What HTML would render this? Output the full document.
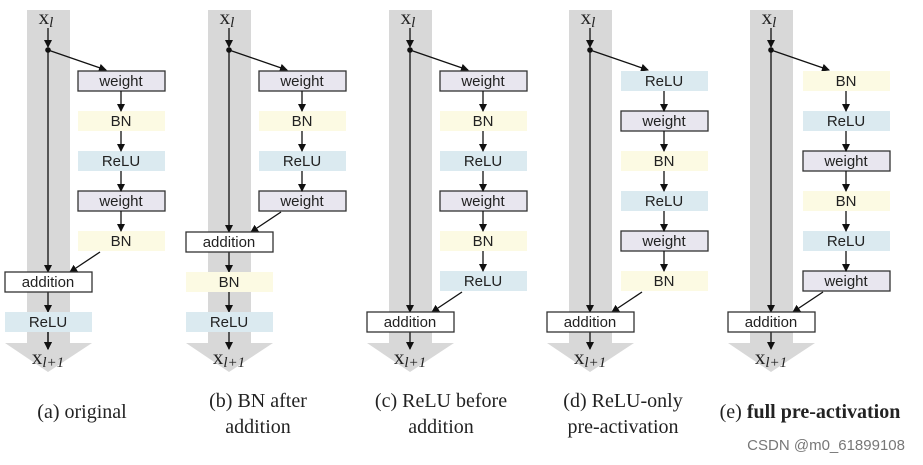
<!DOCTYPE html>
<html><head><meta charset="utf-8"><style>
html,body{margin:0;padding:0;background:#fff;}
svg{display:block;}
.t{font-family:"Liberation Sans",sans-serif;font-size:15px;fill:#222;text-anchor:middle;}
.x{font-family:"Liberation Serif",serif;font-size:21px;fill:#222;text-anchor:middle;}
.cap{font-family:"Liberation Serif",serif;font-size:20px;fill:#222;text-anchor:middle;}
</style></head><body>
<svg width="923" height="465" viewBox="0 0 923 465" xmlns="http://www.w3.org/2000/svg">
<defs>
<marker id="ah" markerWidth="8" markerHeight="8" refX="7" refY="4" orient="auto" markerUnits="userSpaceOnUse"><path d="M0,0 L8,4 L0,8 z" fill="#111"/></marker>
<g id="base">
<rect x="27" y="10" width="43" height="333" fill="#d8d8d8"/>
<polygon points="5,343 92,343 48,372" fill="#d8d8d8"/>
<text class="x" x="46" y="24">x<tspan font-style="italic" font-size="15" dy="3">l</tspan></text>
<line x1="48" y1="28" x2="48" y2="47" stroke="#111" stroke-width="1.3" marker-end="url(#ah)"/>
<circle cx="48" cy="50" r="2.8" fill="#111"/>
<line x1="48" y1="50" x2="106" y2="70" stroke="#111" stroke-width="1.3" marker-end="url(#ah)"/>
<text class="x" x="48" y="364">x<tspan font-style="italic" font-size="15" dy="3">l+1</tspan></text>
</g>
</defs>

<!-- (a) -->
<g transform="translate(0,0)">
<use href="#base"/>
<rect x="78" y="71" width="87" height="20" fill="#e8e6ef" stroke="#333" stroke-width="1.3"/><text class="t" x="121" y="86">weight</text>
<rect x="78" y="111" width="87" height="20" fill="#fcfae3"/><text class="t" x="121" y="126">BN</text>
<rect x="78" y="151" width="87" height="20" fill="#dbeaf0"/><text class="t" x="121" y="166">ReLU</text>
<rect x="78" y="191" width="87" height="20" fill="#e8e6ef" stroke="#333" stroke-width="1.3"/><text class="t" x="121" y="206">weight</text>
<rect x="78" y="231" width="87" height="20" fill="#fcfae3"/><text class="t" x="121" y="246">BN</text>
<g stroke="#111" stroke-width="1.3" marker-end="url(#ah)">
<line x1="121" y1="91" x2="121" y2="111"/><line x1="121" y1="131" x2="121" y2="151"/><line x1="121" y1="171" x2="121" y2="191"/><line x1="121" y1="211" x2="121" y2="231"/>
<line x1="48" y1="50" x2="48" y2="272"/><line x1="100" y1="252" x2="70" y2="272"/>
<line x1="48" y1="292" x2="48" y2="312"/><line x1="48" y1="332" x2="48" y2="349"/>
</g>
<rect x="5" y="272" width="87" height="20" fill="#fff" stroke="#333" stroke-width="1.3"/><text class="t" x="48" y="287">addition</text>
<rect x="5" y="312" width="87" height="20" fill="#dbeaf0"/><text class="t" x="48" y="327">ReLU</text>
<line x1="48" y1="332" x2="48" y2="349" stroke="#111" stroke-width="1.3" marker-end="url(#ah)"/>
</g>

<!-- (b) -->
<g transform="translate(181,0)">
<use href="#base"/>
<rect x="78" y="71" width="87" height="20" fill="#e8e6ef" stroke="#333" stroke-width="1.3"/><text class="t" x="121" y="86">weight</text>
<rect x="78" y="111" width="87" height="20" fill="#fcfae3"/><text class="t" x="121" y="126">BN</text>
<rect x="78" y="151" width="87" height="20" fill="#dbeaf0"/><text class="t" x="121" y="166">ReLU</text>
<rect x="78" y="191" width="87" height="20" fill="#e8e6ef" stroke="#333" stroke-width="1.3"/><text class="t" x="121" y="206">weight</text>
<g stroke="#111" stroke-width="1.3" marker-end="url(#ah)">
<line x1="121" y1="91" x2="121" y2="111"/><line x1="121" y1="131" x2="121" y2="151"/><line x1="121" y1="171" x2="121" y2="191"/>
<line x1="48" y1="50" x2="48" y2="232"/><line x1="100" y1="212" x2="70" y2="232"/>
<line x1="48" y1="252" x2="48" y2="272"/><line x1="48" y1="292" x2="48" y2="312"/>
</g>
<rect x="5" y="232" width="87" height="20" fill="#fff" stroke="#333" stroke-width="1.3"/><text class="t" x="48" y="247">addition</text>
<rect x="5" y="272" width="87" height="20" fill="#fcfae3"/><text class="t" x="48" y="287">BN</text>
<rect x="5" y="312" width="87" height="20" fill="#dbeaf0"/><text class="t" x="48" y="327">ReLU</text>
<line x1="48" y1="332" x2="48" y2="349" stroke="#111" stroke-width="1.3" marker-end="url(#ah)"/>
</g>

<!-- (c) -->
<g transform="translate(362,0)">
<use href="#base"/>
<rect x="78" y="71" width="87" height="20" fill="#e8e6ef" stroke="#333" stroke-width="1.3"/><text class="t" x="121" y="86">weight</text>
<rect x="78" y="111" width="87" height="20" fill="#fcfae3"/><text class="t" x="121" y="126">BN</text>
<rect x="78" y="151" width="87" height="20" fill="#dbeaf0"/><text class="t" x="121" y="166">ReLU</text>
<rect x="78" y="191" width="87" height="20" fill="#e8e6ef" stroke="#333" stroke-width="1.3"/><text class="t" x="121" y="206">weight</text>
<rect x="78" y="231" width="87" height="20" fill="#fcfae3"/><text class="t" x="121" y="246">BN</text>
<rect x="78" y="271" width="87" height="20" fill="#dbeaf0"/><text class="t" x="121" y="286">ReLU</text>
<g stroke="#111" stroke-width="1.3" marker-end="url(#ah)">
<line x1="121" y1="91" x2="121" y2="111"/><line x1="121" y1="131" x2="121" y2="151"/><line x1="121" y1="171" x2="121" y2="191"/><line x1="121" y1="211" x2="121" y2="231"/><line x1="121" y1="251" x2="121" y2="271"/>
<line x1="48" y1="50" x2="48" y2="312"/><line x1="100" y1="292" x2="70" y2="312"/>
<line x1="48" y1="332" x2="48" y2="349"/>
</g>
<rect x="5" y="312" width="87" height="20" fill="#fff" stroke="#333" stroke-width="1.3"/><text class="t" x="48" y="327">addition</text>
</g>

<!-- (d) -->
<g transform="translate(542,0)">
<use href="#base"/>
<rect x="79" y="71" width="87" height="20" fill="#dbeaf0"/><text class="t" x="122" y="86">ReLU</text>
<rect x="79" y="111" width="87" height="20" fill="#e8e6ef" stroke="#333" stroke-width="1.3"/><text class="t" x="122" y="126">weight</text>
<rect x="79" y="151" width="87" height="20" fill="#fcfae3"/><text class="t" x="122" y="166">BN</text>
<rect x="79" y="191" width="87" height="20" fill="#dbeaf0"/><text class="t" x="122" y="206">ReLU</text>
<rect x="79" y="231" width="87" height="20" fill="#e8e6ef" stroke="#333" stroke-width="1.3"/><text class="t" x="122" y="246">weight</text>
<rect x="79" y="271" width="87" height="20" fill="#fcfae3"/><text class="t" x="122" y="286">BN</text>
<g stroke="#111" stroke-width="1.3" marker-end="url(#ah)">
<line x1="122" y1="91" x2="122" y2="111"/><line x1="122" y1="131" x2="122" y2="151"/><line x1="122" y1="171" x2="122" y2="191"/><line x1="122" y1="211" x2="122" y2="231"/><line x1="122" y1="251" x2="122" y2="271"/>
<line x1="48" y1="50" x2="48" y2="312"/><line x1="100" y1="292" x2="70" y2="312"/>
<line x1="48" y1="332" x2="48" y2="349"/>
</g>
<rect x="5" y="312" width="87" height="20" fill="#fff" stroke="#333" stroke-width="1.3"/><text class="t" x="48" y="327">addition</text>
</g>

<!-- (e) -->
<g transform="translate(723,0)">
<use href="#base"/>
<rect x="80" y="71" width="87" height="20" fill="#fcfae3"/><text class="t" x="123" y="86">BN</text>
<rect x="80" y="111" width="87" height="20" fill="#dbeaf0"/><text class="t" x="123" y="126">ReLU</text>
<rect x="80" y="151" width="87" height="20" fill="#e8e6ef" stroke="#333" stroke-width="1.3"/><text class="t" x="123" y="166">weight</text>
<rect x="80" y="191" width="87" height="20" fill="#fcfae3"/><text class="t" x="123" y="206">BN</text>
<rect x="80" y="231" width="87" height="20" fill="#dbeaf0"/><text class="t" x="123" y="246">ReLU</text>
<rect x="80" y="271" width="87" height="20" fill="#e8e6ef" stroke="#333" stroke-width="1.3"/><text class="t" x="123" y="286">weight</text>
<g stroke="#111" stroke-width="1.3" marker-end="url(#ah)">
<line x1="123" y1="91" x2="123" y2="111"/><line x1="123" y1="131" x2="123" y2="151"/><line x1="123" y1="171" x2="123" y2="191"/><line x1="123" y1="211" x2="123" y2="231"/><line x1="123" y1="251" x2="123" y2="271"/>
<line x1="48" y1="50" x2="48" y2="312"/><line x1="100" y1="292" x2="70" y2="312"/>
<line x1="48" y1="332" x2="48" y2="349"/>
</g>
<rect x="5" y="312" width="87" height="20" fill="#fff" stroke="#333" stroke-width="1.3"/><text class="t" x="48" y="327">addition</text>
</g>

<!-- captions -->
<text class="cap" x="82" y="418">(a) original</text>
<text class="cap" x="258" y="407">(b) BN after</text>
<text class="cap" x="258" y="433">addition</text>
<text class="cap" x="441" y="407">(c) ReLU before</text>
<text class="cap" x="441" y="433">addition</text>
<text class="cap" x="623" y="407">(d) ReLU-only</text>
<text class="cap" x="623" y="433">pre-activation</text>
<text class="cap" x="810" y="418">(e) <tspan font-weight="bold">full pre-activation</tspan></text>
<text x="905" y="450" text-anchor="end" font-family="Liberation Sans, sans-serif" font-size="15" fill="#777">CSDN @m0_61899108</text>
</svg>
</body></html>
